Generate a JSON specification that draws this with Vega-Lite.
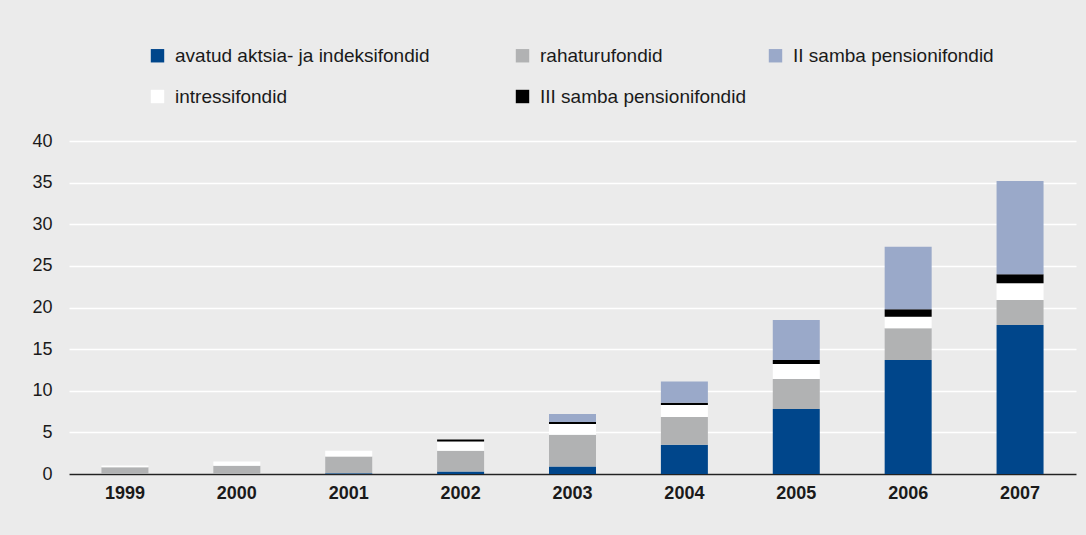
{
  "$schema": "https://vega.github.io/schema/vega-lite/v6.json",
  "autosize": "none",
  "width": 1007,
  "height": 333,
  "padding": {"left": 69, "top": 141, "right": 10, "bottom": 61},
  "background": "#ebebeb",
  "config": {
    "view": {"stroke": null},
    "font": "Liberation Sans"
  },
  "data": {
    "values": [
      {"year": "1999", "type": "avatud aktsia- ja indeksifondid", "value": 0},
      {"year": "1999", "type": "rahaturufondid", "value": 0.8},
      {"year": "1999", "type": "intressifondid", "value": 0.22},
      {"year": "1999", "type": "III samba pensionifondid", "value": 0},
      {"year": "1999", "type": "II samba pensionifondid", "value": 0},
      {"year": "2000", "type": "avatud aktsia- ja indeksifondid", "value": 0},
      {"year": "2000", "type": "rahaturufondid", "value": 1.0},
      {"year": "2000", "type": "intressifondid", "value": 0.5},
      {"year": "2000", "type": "III samba pensionifondid", "value": 0},
      {"year": "2000", "type": "II samba pensionifondid", "value": 0},
      {"year": "2001", "type": "avatud aktsia- ja indeksifondid", "value": 0.1},
      {"year": "2001", "type": "rahaturufondid", "value": 2.0},
      {"year": "2001", "type": "intressifondid", "value": 0.7},
      {"year": "2001", "type": "III samba pensionifondid", "value": 0},
      {"year": "2001", "type": "II samba pensionifondid", "value": 0},
      {"year": "2002", "type": "avatud aktsia- ja indeksifondid", "value": 0.3},
      {"year": "2002", "type": "rahaturufondid", "value": 2.5},
      {"year": "2002", "type": "intressifondid", "value": 1.1},
      {"year": "2002", "type": "III samba pensionifondid", "value": 0.25},
      {"year": "2002", "type": "II samba pensionifondid", "value": 0},
      {"year": "2003", "type": "avatud aktsia- ja indeksifondid", "value": 0.9},
      {"year": "2003", "type": "rahaturufondid", "value": 3.8},
      {"year": "2003", "type": "intressifondid", "value": 1.3},
      {"year": "2003", "type": "III samba pensionifondid", "value": 0.25},
      {"year": "2003", "type": "II samba pensionifondid", "value": 0.95},
      {"year": "2004", "type": "avatud aktsia- ja indeksifondid", "value": 3.5},
      {"year": "2004", "type": "rahaturufondid", "value": 3.35},
      {"year": "2004", "type": "intressifondid", "value": 1.45},
      {"year": "2004", "type": "III samba pensionifondid", "value": 0.25},
      {"year": "2004", "type": "II samba pensionifondid", "value": 2.55},
      {"year": "2005", "type": "avatud aktsia- ja indeksifondid", "value": 7.8},
      {"year": "2005", "type": "rahaturufondid", "value": 3.6},
      {"year": "2005", "type": "intressifondid", "value": 1.8},
      {"year": "2005", "type": "III samba pensionifondid", "value": 0.5},
      {"year": "2005", "type": "II samba pensionifondid", "value": 4.8},
      {"year": "2006", "type": "avatud aktsia- ja indeksifondid", "value": 13.7},
      {"year": "2006", "type": "rahaturufondid", "value": 3.8},
      {"year": "2006", "type": "intressifondid", "value": 1.4},
      {"year": "2006", "type": "III samba pensionifondid", "value": 0.9},
      {"year": "2006", "type": "II samba pensionifondid", "value": 7.5},
      {"year": "2007", "type": "avatud aktsia- ja indeksifondid", "value": 17.9},
      {"year": "2007", "type": "rahaturufondid", "value": 3.0},
      {"year": "2007", "type": "intressifondid", "value": 2.0},
      {"year": "2007", "type": "III samba pensionifondid", "value": 1.1},
      {"year": "2007", "type": "II samba pensionifondid", "value": 11.2}
    ]
  },
  "transform": [
    {"calculate": "indexof(['avatud aktsia- ja indeksifondid','rahaturufondid','intressifondid','III samba pensionifondid','II samba pensionifondid'], datum.type)", "as": "stackOrder"}
  ],
  "mark": {"type": "bar"},
  "encoding": {
    "x": {
      "field": "year",
      "type": "ordinal",
      "scale": {"paddingInner": 0.58, "paddingOuter": 0.29},
      "axis": {
        "title": null,
        "labelAngle": 0,
        "labelFontSize": 18,
        "labelFontWeight": "bold",
        "labelColor": "#1a1a1a",
        "labelPadding": 10,
        "ticks": false,
        "domainColor": "#222222",
        "domainWidth": 1.7
      }
    },
    "y": {
      "field": "value",
      "type": "quantitative",
      "stack": "zero",
      "scale": {"domain": [0, 40], "nice": false},
      "axis": {
        "title": null,
        "values": [0, 5, 10, 15, 20, 25, 30, 35, 40],
        "labelFontSize": 18,
        "labelColor": "#1a1a1a",
        "labelPadding": 17,
        "ticks": false,
        "domain": false,
        "gridColor": "#ffffff",
        "gridWidth": 1.7,
        "gridOpacity": 1
      }
    },
    "color": {
      "field": "type",
      "type": "nominal",
      "scale": {
        "domain": ["avatud aktsia- ja indeksifondid", "rahaturufondid", "II samba pensionifondid", "intressifondid", "III samba pensionifondid"],
        "range": ["#00468b", "#b1b2b3", "#9aa9c9", "#ffffff", "#000000"]
      },
      "legend": {
        "title": null,
        "orient": "none",
        "legendX": 79,
        "legendY": -95,
        "direction": "horizontal",
        "columns": 3,
        "gridAlign": "each",
        "columnPadding": 20,
        "rowPadding": 21,
        "symbolType": "square",
        "symbolSize": 180,
        "symbolStrokeWidth": 0,
        "symbolOpacity": 1,
        "labelFontSize": 19,
        "labelColor": "#1a1a1a",
        "labelOffset": 8,
        "labelLimit": 0,
        "labelExpr": "indexof(datum.value, 'avatud') == 0 ? datum.value + '\u2007\u2007\u2007\u2007\u2007\u2007\u200b' : datum.value"
      }
    },
    "order": {"field": "stackOrder", "type": "quantitative"}
  }
}
